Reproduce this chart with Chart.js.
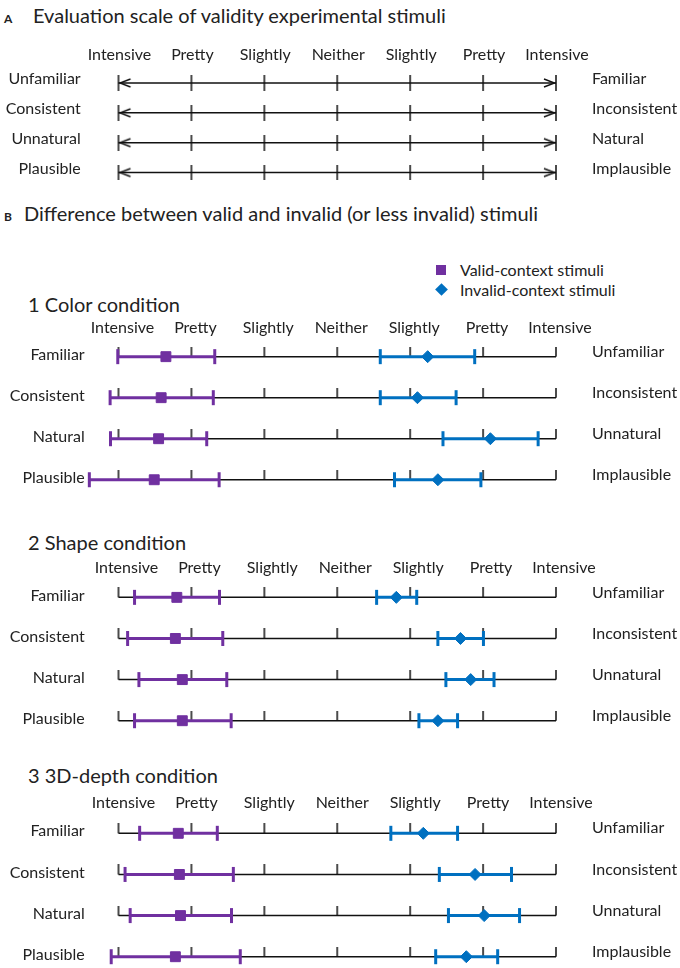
<!DOCTYPE html>
<html>
<head>
<meta charset="utf-8">
<title>Validity evaluation scale</title>
<script src="https://cdn.jsdelivr.net/npm/chart.js@4.4.1/dist/chart.umd.min.js"></script>
<style>
  html, body { margin: 0; padding: 0; background: #fff; overflow: hidden; }
  body { width: 680px; height: 968px; position: relative; font-family: Lato, "Open Sans", sans-serif; color: #222; }
  .txt { position: absolute; white-space: nowrap; height: 24px; line-height: 24px; }
  .tag { display: inline-block; font-weight: bold; font-size: 12px; }
  .head { font-size: 20px; }
  .leg { font-size: 16px; }
  canvas { position: absolute; left: 0; }
  .sq { position: absolute; width: 10px; height: 10px; background: #7030A0; }
  .dia { position: absolute; width: 9px; height: 9px; background: #0070C0; transform: rotate(45deg); }
</style>
</head>
<body>

<div class="txt" style="left:4px; top:3px;"><span class="tag" style="width:29px">A</span><span class="head">Evaluation scale of validity experimental stimuli</span></div>
<div class="txt" style="left:4px; top:201px;"><span class="tag" style="width:20px">B</span><span class="head">Difference between valid and invalid (or less invalid) stimuli</span></div>

<div class="sq" style="left:436px; top:265px;"></div>
<div class="txt leg" style="left:460px; top:258px;">Valid-context stimuli</div>
<div class="dia" style="left:436.5px; top:285px;"></div>
<div class="txt leg" style="left:460px; top:277.5px;">Invalid-context stimuli</div>

<div class="txt head" style="left:28px; top:292px;">1 Color condition</div>
<div class="txt head" style="left:28px; top:530px;">2 Shape condition</div>
<div class="txt head" style="left:28px; top:763px;">3 3D-depth condition</div>

<canvas id="chartA"></canvas>
<canvas id="chartColor"></canvas>
<canvas id="chartShape"></canvas>
<canvas id="chartDepth"></canvas>

<script>
// Rótulos da escala
const scaleLabels = ['Intensive', 'Pretty', 'Slightly', 'Neither', 'Slightly', 'Pretty', 'Intensive'];
const scaleValues = [1, 2, 3, 4, 5, 6, 7];
const evalLeft = ['Unfamiliar', 'Consistent', 'Unnatural', 'Plausible'];
const evalRight = ['Familiar', 'Inconsistent', 'Natural', 'Implausible'];
const condLeft = ['Familiar', 'Consistent', 'Natural', 'Plausible'];
const condRight = ['Unfamiliar', 'Inconsistent', 'Unnatural', 'Implausible'];

// 1 Color condition
const colorValidMean = [1.65, 1.585, 1.55, 1.49];
const colorValidLow = [0.99, 0.885, 0.89, 0.60];
const colorValidHigh = [2.32, 2.30, 2.21, 2.38];
const colorInvalidMean = [5.24, 5.10, 6.10, 5.38];
const colorInvalidLow = [4.59, 4.59, 5.45, 4.785];
const colorInvalidHigh = [5.885, 5.63, 6.755, 5.97];

// 2 Shape condition
const shapeValidMean = [1.80, 1.78, 1.875, 1.875];
const shapeValidLow = [1.22, 1.125, 1.28, 1.22];
const shapeValidHigh = [2.385, 2.43, 2.485, 2.545];
const shapeInvalidMean = [4.81, 5.69, 5.83, 5.38];
const shapeInvalidLow = [4.54, 5.38, 5.49, 5.12];
const shapeInvalidHigh = [5.09, 6.005, 6.15, 5.65];

// 3 3D-depth condition
const depthValidMean = [1.82, 1.835, 1.85, 1.78];
const depthValidLow = [1.29, 1.09, 1.16, 0.90];
const depthValidHigh = [2.355, 2.575, 2.55, 2.67];
const depthInvalidMean = [5.18, 5.89, 6.015, 5.77];
const depthInvalidLow = [4.735, 5.40, 5.525, 5.35];
const depthInvalidHigh = [5.65, 6.39, 6.50, 6.20];

// Estilo e layout
const PURPLE = '#7030A0';
const BLUE = '#0070C0';
const LINE_COLOR = '#111';
const TEXT_COLOR = '#222';
const PX_FIRST = 118.5;   // pixel do valor 1
const PX_LAST = 556;      // pixel do valor 7
const X_MIN = 0.55;
const X_MAX = 7;
const Y_MIN = -0.5;
const Y_MAX = 3.25;
const HEADER_H = 26;

Chart.defaults.font.family = 'Lato, "Open Sans", sans-serif';
Chart.defaults.font.size = 16;
Chart.defaults.color = TEXT_COLOR;

// Marca vertical da escala (acima da linha e/ou abaixo)
function tickImage(up, down) {
    const h = Math.max(up, down);
    const c = document.createElement('canvas');
    c.width = 4;
    c.height = 2 * h;
    const ctx = c.getContext('2d');
    ctx.fillStyle = LINE_COLOR;
    ctx.fillRect(1.25, h - up, 1.5, up + down);
    return c;
}

// Ponta de seta nas extremidades (painel A)
function arrowImage(dir) {
    const c = document.createElement('canvas');
    c.width = 30;
    c.height = 12;
    const ctx = c.getContext('2d');
    ctx.strokeStyle = LINE_COLOR;
    ctx.lineWidth = 1.4;
    ctx.beginPath();
    if (dir < 0) {
        ctx.moveTo(27, 2); ctx.lineTo(16.5, 6); ctx.lineTo(27, 10);
    } else {
        ctx.moveTo(3, 2); ctx.lineTo(13.5, 6); ctx.lineTo(3, 10);
    }
    ctx.stroke();
    return c;
}

const panels = [
    { id: 'chartA', firstRow: 83, gap: 29.9, headerPad: 3.5, headerShift: 1, leftPad: 5, leftShift: -4, rightShift: -4,
      left: evalLeft, right: evalRight, arrows: true, tickUp: 8, tickDown: 8, series: [] },
    { id: 'chartColor', firstRow: 356.7, gap: 41.1, headerPad: -1, headerShift: 4, leftPad: 1, leftShift: -2, rightShift: -5,
      left: condLeft, right: condRight, arrows: false, tickUp: 10, tickDown: 0,
      series: [
          { mean: colorValidMean, lo: colorValidLow, hi: colorValidHigh, color: PURPLE, style: 'rect', radius: 7 },
          { mean: colorInvalidMean, lo: colorInvalidLow, hi: colorInvalidHigh, color: BLUE, style: 'rectRot', radius: 6 }
      ] },
    { id: 'chartShape', firstRow: 597.3, gap: 41, headerPad: -0.5, headerShift: 8, leftPad: 1, leftShift: -2, rightShift: -5,
      left: condLeft, right: condRight, arrows: false, tickUp: 10, tickDown: 0,
      series: [
          { mean: shapeValidMean, lo: shapeValidLow, hi: shapeValidHigh, color: PURPLE, style: 'rect', radius: 7 },
          { mean: shapeInvalidMean, lo: shapeInvalidLow, hi: shapeInvalidHigh, color: BLUE, style: 'rectRot', radius: 6 }
      ] },
    { id: 'chartDepth', firstRow: 833.3, gap: 41.1, headerPad: 0.5, headerShift: 5, leftPad: 1, leftShift: -2, rightShift: -5,
      left: condLeft, right: condRight, arrows: false, tickUp: 10, tickDown: 0,
      series: [
          { mean: depthValidMean, lo: depthValidLow, hi: depthValidHigh, color: PURPLE, style: 'rect', radius: 7 },
          { mean: depthInvalidMean, lo: depthInvalidLow, hi: depthInvalidHigh, color: BLUE, style: 'rectRot', radius: 6 }
      ] }
];

function buildPanel(p) {
    const canvas = document.getElementById(p.id);
    const areaTop = p.firstRow - 0.5 * p.gap;
    const canvasTop = Math.round(areaTop - HEADER_H);
    const axisH = areaTop - canvasTop;
    const height = Math.round(axisH + (Y_MAX - Y_MIN) * p.gap);
    canvas.width = 680;
    canvas.height = height;
    canvas.style.top = canvasTop + 'px';

    const unit = (PX_LAST - PX_FIRST) / 6;
    const leftW = PX_FIRST - (1 - X_MIN) * unit;
    const rightW = 680 - (PX_LAST + (X_MAX - 7) * unit);
    const rows = p.left.map((_, i) => i);

    const datasets = [];

    // Médias (marcadores)
    p.series.forEach(s => {
        datasets.push({
            data: rows.map(i => ({ x: s.mean[i], y: i })),
            pointStyle: s.style,
            pointRadius: s.radius,
            pointHoverRadius: s.radius,
            pointBackgroundColor: s.color,
            pointBorderColor: s.color,
            pointBorderWidth: 1,
            clip: false,
            order: 0
        });
    });

    // Barras de erro
    p.series.forEach(s => {
        rows.forEach(i => {
            datasets.push({
                data: [{ x: s.lo[i], y: i }, { x: s.hi[i], y: i }],
                showLine: true,
                borderColor: s.color,
                borderWidth: 3,
                pointStyle: 'line',
                pointRotation: 90,
                pointRadius: 7.5,
                pointHoverRadius: 7.5,
                pointBorderColor: s.color,
                pointBorderWidth: 3,
                clip: false,
                order: 1
            });
        });
    });

    // Marcas da escala
    const tickImg = tickImage(p.tickUp, p.tickDown);
    datasets.push({
        data: rows.flatMap(i => scaleValues.map(v => ({ x: v, y: i }))),
        pointStyle: tickImg,
        pointRadius: 3,
        clip: false,
        order: 2
    });

    // Setas (painel A)
    if (p.arrows) {
        datasets.push({
            data: rows.map(i => ({ x: scaleValues[0], y: i })),
            pointStyle: arrowImage(-1), pointRadius: 3, clip: false, order: 2
        });
        datasets.push({
            data: rows.map(i => ({ x: scaleValues[scaleValues.length - 1], y: i })),
            pointStyle: arrowImage(1), pointRadius: 3, clip: false, order: 2
        });
    }

    // Linhas de base
    rows.forEach(i => {
        datasets.push({
            data: [{ x: scaleValues[0], y: i }, { x: scaleValues[scaleValues.length - 1], y: i }],
            showLine: true,
            borderColor: LINE_COLOR,
            borderWidth: 1.5,
            pointRadius: 0,
            clip: false,
            order: 3
        });
    });

    return new Chart(canvas, {
        type: 'scatter',
        data: { datasets: datasets },
        options: {
            responsive: false,
            animation: false,
            events: [],
            layout: { padding: 0, autoPadding: false },
            plugins: { legend: { display: false }, tooltip: { enabled: false } },
            scales: {
                x: {
                    type: 'linear',
                    position: 'top',
                    min: X_MIN,
                    max: X_MAX,
                    grid: { display: false, drawTicks: false },
                    border: { display: false },
                    afterBuildTicks: scale => { scale.ticks = scaleValues.map(v => ({ value: v })); },
                    afterFit: scale => { scale.height = axisH; scale.paddingLeft = 0; scale.paddingRight = 0; },
                    ticks: {
                        autoSkip: false,
                        maxRotation: 0,
                        padding: p.headerPad,
                        labelOffset: p.headerShift,
                        callback: v => scaleLabels[scaleValues.indexOf(v)]
                    }
                },
                y: {
                    type: 'linear',
                    position: 'left',
                    reverse: true,
                    min: Y_MIN,
                    max: Y_MAX,
                    grid: { display: false, drawTicks: false },
                    border: { display: false },
                    afterBuildTicks: scale => { scale.ticks = rows.map(i => ({ value: i })); },
                    afterFit: scale => { scale.width = leftW; scale.paddingTop = 0; scale.paddingBottom = 0; },
                    ticks: {
                        padding: p.leftPad,
                        labelOffset: p.leftShift,
                        callback: v => p.left[v]
                    }
                },
                y2: {
                    type: 'linear',
                    position: 'right',
                    reverse: true,
                    min: Y_MIN,
                    max: Y_MAX,
                    grid: { display: false, drawTicks: false },
                    border: { display: false },
                    afterBuildTicks: scale => { scale.ticks = rows.map(i => ({ value: i })); },
                    afterFit: scale => { scale.width = rightW; scale.paddingTop = 0; scale.paddingBottom = 0; },
                    ticks: {
                        padding: 36,
                        labelOffset: p.rightShift,
                        callback: v => p.right[v]
                    }
                }
            }
        }
    });
}

panels.forEach(buildPanel);
</script>
</body>
</html>
